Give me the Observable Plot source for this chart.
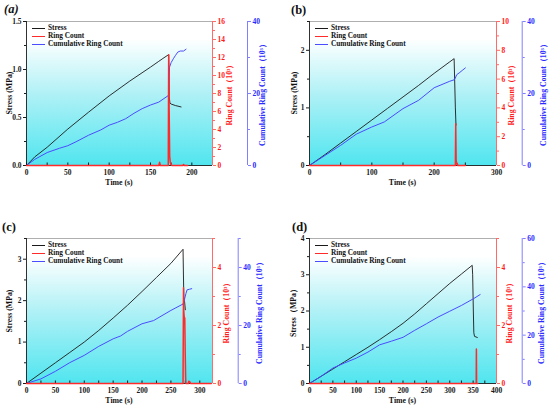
<!DOCTYPE html>
<html><head><meta charset="utf-8">
<script src="https://cdn.jsdelivr.net/npm/d3@7"></script>
<script src="https://cdn.jsdelivr.net/npm/@observablehq/plot@0.6"></script>
<style>
body{margin:0;background:#fff}
#root{position:relative;width:550px;height:408px;overflow:hidden;font-family:"Liberation Serif","Times New Roman",serif;font-weight:bold;color:#111}
.t{position:absolute;white-space:nowrap;line-height:1}
.rot{transform:translate(-50%,-50%) rotate(-90deg)}
.ctr{transform:translate(-50%,-50%)}
.leg{position:absolute;font-size:7.3px;line-height:8px;white-space:nowrap}
.leg span.sw{display:inline-block;width:13px;height:0;border-top:1.2px solid;vertical-align:middle;margin-right:3px}
</style></head><body><div id="root"></div>
<script>
// ---------------- data ----------------
// (a)
const aStressT = [0,5,10,25,50,75,100,125,150,160,165,172,172.6,173.5,175,180,187];
const aStress  = [0,0.045,0.09,0.19,0.38,0.555,0.725,0.88,1.025,1.085,1.115,1.155,0.72,0.65,0.64,0.625,0.61];
const aCumT = [0,10,25,40,50,60,75,90,100,110,120,130,140,150,160,172,172.6,173,175,178,180,183,186,190,193];
const aCum  = [0,1.7,3.6,4.8,5.5,6.6,8.4,9.9,11.2,12,13,14.5,15.8,16.8,17.6,19.5,25,27.3,28.6,29.8,30.5,31.5,31.8,31.8,32.3];
const aRingT = [0,160,161,162,171.5,172,172.6,173.2,174,175,176,189,190,191,195];
const aRing  = [0,0,0.35,0,0,12.3,6,1,0.3,0.1,0,0,0.12,0,0];
// (b)
const bStressT = [0,25,50,75,100,125,150,175,200,225,232,234,235];
const bStress  = [0,0.19,0.39,0.59,0.79,0.99,1.19,1.39,1.6,1.8,1.855,1.0,0.7];
const bCumT = [0,25,50,75,100,120,150,175,200,225,232,234,236,240,245,250];
const bCum  = [0,2.8,5.6,8.7,10.7,12.1,15.8,18.1,21.6,23.4,23.8,24.3,25.2,25.7,26.4,27.1];
const bRingT = [0,234,234.6,235.2,236,237,238,250];
const bRing  = [0,0,2.9,0.4,0.1,0.15,0,0];
// (c)
const cStressT = [0,25,50,75,100,125,150,175,200,225,250,271,272.3,273.5,275];
const cStress  = [0,0.25,0.5,0.75,1.0,1.28,1.58,1.89,2.22,2.56,2.9,3.24,2.1,2.0,1.78];
const cCumT = [0,25,50,75,100,125,150,163,175,200,220,250,271,273,274,276,278,282,286];
const cCum  = [0,1.6,4.2,7.2,9.7,12.8,15.4,16.4,18,20.6,21.7,25.2,27.4,28.3,29.4,31,32.3,32.5,32.7];
const cRingT = [0,271,271.8,272.3,273,274,274.8,275.5,276,280,281,283,284,320];
const cRing  = [0,0,3.3,2.5,2.3,2.25,1.0,0.2,0,0,0.08,0.05,0,0];
// (d)
const dStressT = [0,25,50,75,100,125,150,175,200,225,250,275,300,325,348,349,350.5,351.5,353,359];
const dStress  = [0,0.2,0.4,0.6,0.8,1.0,1.21,1.43,1.66,1.92,2.2,2.48,2.76,3.02,3.26,3.0,2.0,1.4,1.3,1.27];
const dCumT = [0,25,50,75,100,125,150,175,200,225,250,275,300,325,350,365];
const dCum  = [0,3,6.4,8.5,10.5,13,16,17.5,19.1,22,24.7,27.5,29.9,32.3,35,36.8];
const dRingT = [0,356.6,357,357.4,360];
const dRing  = [0,0,1.19,0,0];

// ticks
const aXTicks=[0,50,100,150,200], aXMinor=[25,75,125,175,225];
const bXTicks=[0,100,200,300], bXMinor=[50,150,250];
const cXTicks=[0,50,100,150,200,250,300], cXMinor=[25,75,125,175,225,275];
const dXTicks=[0,50,100,150,200,250,300,350,400], dXMinor=[25,75,125,175,225,275,325,375];
const aSTicks=[0,0.5,1,1.5], aSMinor=[0.25,0.75,1.25];
const bSTicks=[0,1,2], bSMinor=[0.5,1.5,2.5];
const cSTicks=[0,1,2,3], cSMinor=[0.5,1.5,2.5,3.5];
const dSTicks=[0,1,2,3,4], dSMinor=[0.5,1.5,2.5,3.5];
const aRTicks=[0,2,4,6,8,10,12,14,16], aRMinor=[1,3,5,7,9,11,13,15];
const bRTicks=[0,2,4,6,8,10], bRMinor=[1,3,5,7,9];
const cRTicks=[0,2,4], cRMinor=[1,3,5];
const dRTicks=[0,2,4], dRMinor=[1,3,5];
const aCTicks=[0,20,40], aCMinor=[10,30];
const bCTicks=[0,20,40], bCMinor=[10,30];
const cCTicks=[0,20,40], cCMinor=[10,30,50];
const dCTicks=[0,20,40,60], dCMinor=[10,30,50];

const legendLabels = ["Stress","Ring Count","Cumulative Ring Count"];
const xTitle = "Time (s)";
const redTitle = "Ring Count（10³）";
const blueTitle = "Cumulative Ring Count（10³）";

// ---------------- layout ----------------
const pts = (T,V) => T.map((t,i)=>({t, v:V[i]}));
const panels = [
 {key:"a", ox:0, oy:0, L:26, R:63, T:21, B:39, blue:35, letter:"(a)", italic:true, letterX:4, letterY:3,
  xD:[0,225], xT:aXTicks, xM:aXMinor, sD:[0,1.5], sT:aSTicks, sM:aSMinor, sF:d3.format(".1f"),
  rD:[0,16], rT:aRTicks, rM:aRMinor, cD:[0,40], cT:aCTicks, cM:aCMinor,
  stress:pts(aStressT,aStress), cum:pts(aCumT,aCum), ring:pts(aRingT,aRing),
  sLabel:"Stress (MPa)", yTX:10, rTX:18, bTX:16},
 {key:"b", ox:275, oy:0, L:34, R:54, T:21, B:39, blue:25.7, letter:"(b)", italic:false, letterX:291, letterY:4,
  xD:[0,300], xT:bXTicks, xM:bXMinor, sD:[0,2.5], sT:bSTicks, sM:bSMinor, sF:d3.format("d"),
  rD:[0,10], rT:bRTicks, rM:bRMinor, cD:[0,40], cT:bCTicks, cM:bCMinor,
  stress:pts(bStressT,bStress), cum:pts(bCumT,bCum), ring:pts(bRingT,bRing),
  sLabel:"Stress (MPa)", yTX:295, rTX:16, bTX:22},
 {key:"c", ox:0, oy:204, L:26, R:63, T:34, B:25, blue:25.7, letter:"(c)", italic:false, letterX:2, letterY:221,
  xD:[0,322], xT:cXTicks, xM:cXMinor, sD:[0,3.5], sT:cSTicks, sM:cSMinor, sF:d3.format("d"),
  rD:[0,5], rT:cRTicks, rM:cRMinor, cD:[0,50], cT:cCTicks, cM:cCMinor,
  stress:pts(cStressT,cStress), cum:pts(cCumT,cCum), ring:pts(cRingT,cRing),
  sLabel:"Stress (MPa)", yTX:10, rTX:15, bTX:22},
 {key:"d", ox:275, oy:204, L:34, R:54, T:34, B:25, blue:25.7, letter:"(d)", italic:false, letterX:292, letterY:221,
  xD:[0,400], xT:dXTicks, xM:dXMinor, sD:[0,4], sT:dSTicks, sM:dSMinor, sF:d3.format("d"),
  rD:[0,5], rT:dRTicks, rM:dRMinor, cD:[0,60], cT:dCTicks, cM:dCMinor,
  stress:pts(dStressT,dStress), cum:pts(dCumT,dCum), ring:pts(dRingT,dRing),
  sLabel:"Stress（MPa）", yTX:294, rTX:14, bTX:20}
];

const root = document.getElementById("root");
const STY = {fontFamily:'"Liberation Serif","Times New Roman",serif', fontWeight:"bold", fontSize:"7.5px", background:"transparent", overflow:"visible"};
const BLACK="#1a1a1a", RED="#ff2a2a", REDAX="#ff6a6a", REDTX="#ff1a1a", BLUE="#4b4bff", BLUEAX="#8080ff", BLUETX="#2a2aff";

function place(svg, p){ svg.style.position="absolute"; svg.style.left=p.ox+"px"; svg.style.top=p.oy+"px"; root.appendChild(svg); return svg; }
function txt(s, x, y, cls, extra){ const d=document.createElement("div"); d.className="t "+cls; d.textContent=s; d.style.left=x+"px"; d.style.top=y+"px"; Object.assign(d.style, extra||{}); root.appendChild(d); return d; }

for (const p of panels) {
  const base = {width:275, height:204, marginLeft:p.L, marginRight:p.R, marginTop:p.T, marginBottom:p.B, style:STY};
  // layer 1: background, stress, x & left axes
  const s1 = Plot.plot({...base,
    x:{domain:p.xD}, y:{domain:p.sD},
    marks:[
      Plot.frame({fill:`url(#grad-${p.key})`, stroke:null}),
      Plot.ruleY([p.sD[1]], {stroke:"#9a9a9a", strokeWidth:0.8}),
      Plot.line(p.stress, {x:"t", y:"v", stroke:BLACK, strokeWidth:0.9}),
      Plot.ruleX([p.xD[0]], {stroke:BLACK, strokeWidth:0.9}),
      Plot.ruleY([p.sD[0]], {stroke:BLACK, strokeWidth:0.9}),
      Plot.axisX({ticks:p.xT, tickSize:0, tickPadding:4, tickFormat:d=>String(d), label:null, fill:BLACK}),
      Plot.axisX({ticks:p.xT.concat(p.xM), tickSize:-2.5, tickFormat:()=>"", label:null, stroke:BLACK}),
      Plot.axisY({ticks:p.sT, tickSize:3, tickPadding:2, tickFormat:p.sF, label:null, fill:BLACK, stroke:BLACK}),
      Plot.axisY({ticks:p.sM, tickSize:2, tickFormat:()=>"", label:null, stroke:BLACK})
    ]});
  const defs = document.createElementNS("http://www.w3.org/2000/svg","defs");
  defs.innerHTML = `<linearGradient id="grad-${p.key}" x1="0" y1="0" x2="0" y2="1"><stop offset="0" stop-color="#ffffff"/><stop offset="0.12" stop-color="#ffffff"/><stop offset="0.5" stop-color="#b0f1f6"/><stop offset="1" stop-color="#50e5ef"/></linearGradient>`;
  s1.insertBefore(defs, s1.firstChild);
  place(s1, p);
  // layer 2: cumulative line
  place(Plot.plot({...base, x:{domain:p.xD, axis:null}, y:{domain:p.cD, axis:null},
    marks:[Plot.line(p.cum, {x:"t", y:"v", stroke:BLUE, strokeWidth:1})]}), p);
  // layer 3: ring count + red axis
  place(Plot.plot({...base, x:{domain:p.xD, axis:null}, y:{domain:p.rD},
    marks:[
      Plot.line(p.ring, {x:"t", y:"v", stroke:RED, strokeWidth:1.5}),
      Plot.ruleX([p.xD[1]], {stroke:REDAX, strokeWidth:1}),
      Plot.axisY({anchor:"right", ticks:p.rT, tickSize:3, tickPadding:2, tickFormat:d=>String(d), label:null, fill:REDTX, stroke:REDAX}),
      Plot.axisY({anchor:"right", ticks:p.rM, tickSize:2, tickFormat:()=>"", label:null, stroke:REDAX})
    ]}), p);
  // layer 4: blue axis
  place(Plot.plot({...base, marginRight:p.R - p.blue, x:{domain:[0,1], axis:null}, y:{domain:p.cD},
    marks:[
      Plot.ruleX([1], {stroke:BLUEAX, strokeWidth:1}),
      Plot.axisY({anchor:"right", ticks:p.cT, tickSize:3, tickPadding:2, tickFormat:d=>String(d), label:null, fill:BLUETX, stroke:BLUEAX}),
      Plot.axisY({anchor:"right", ticks:p.cM, tickSize:2, tickFormat:()=>"", label:null, stroke:BLUEAX})
    ]}), p);

  // texts
  const fl = p.ox + p.L, fr = p.ox + 275 - p.R, ft = p.oy + p.T, fb = p.oy + 204 - p.B;
  const fc = (ft+fb)/2;
  txt(p.letter, p.letterX, p.letterY, "", {fontSize:"12.5px", fontStyle:p.italic?"italic":"normal"});
  txt(xTitle, (fl+fr)/2, fb+18, "ctr", {fontSize:"7.8px"});
  txt(p.sLabel, p.yTX, fc, "rot", {fontSize:"7.8px"});
  txt(redTitle, fr + p.rTX, fc, "rot", {fontSize:"7.8px", color:REDTX});
  txt(blueTitle, fr + p.blue + p.bTX, fc, "rot", {fontSize:"7.8px", color:BLUETX});
  // legend
  const colors=[BLACK, RED, BLUE];
  legendLabels.forEach((lab,i)=>{
    const d=document.createElement("div"); d.className="leg";
    d.style.left=(fl+6)+"px"; d.style.top=(ft+3+i*8)+"px";
    const sw=document.createElement("span"); sw.className="sw"; sw.style.borderTopColor=colors[i];
    d.appendChild(sw); d.appendChild(document.createTextNode(lab));
    root.appendChild(d);
  });
}
</script></body></html>
